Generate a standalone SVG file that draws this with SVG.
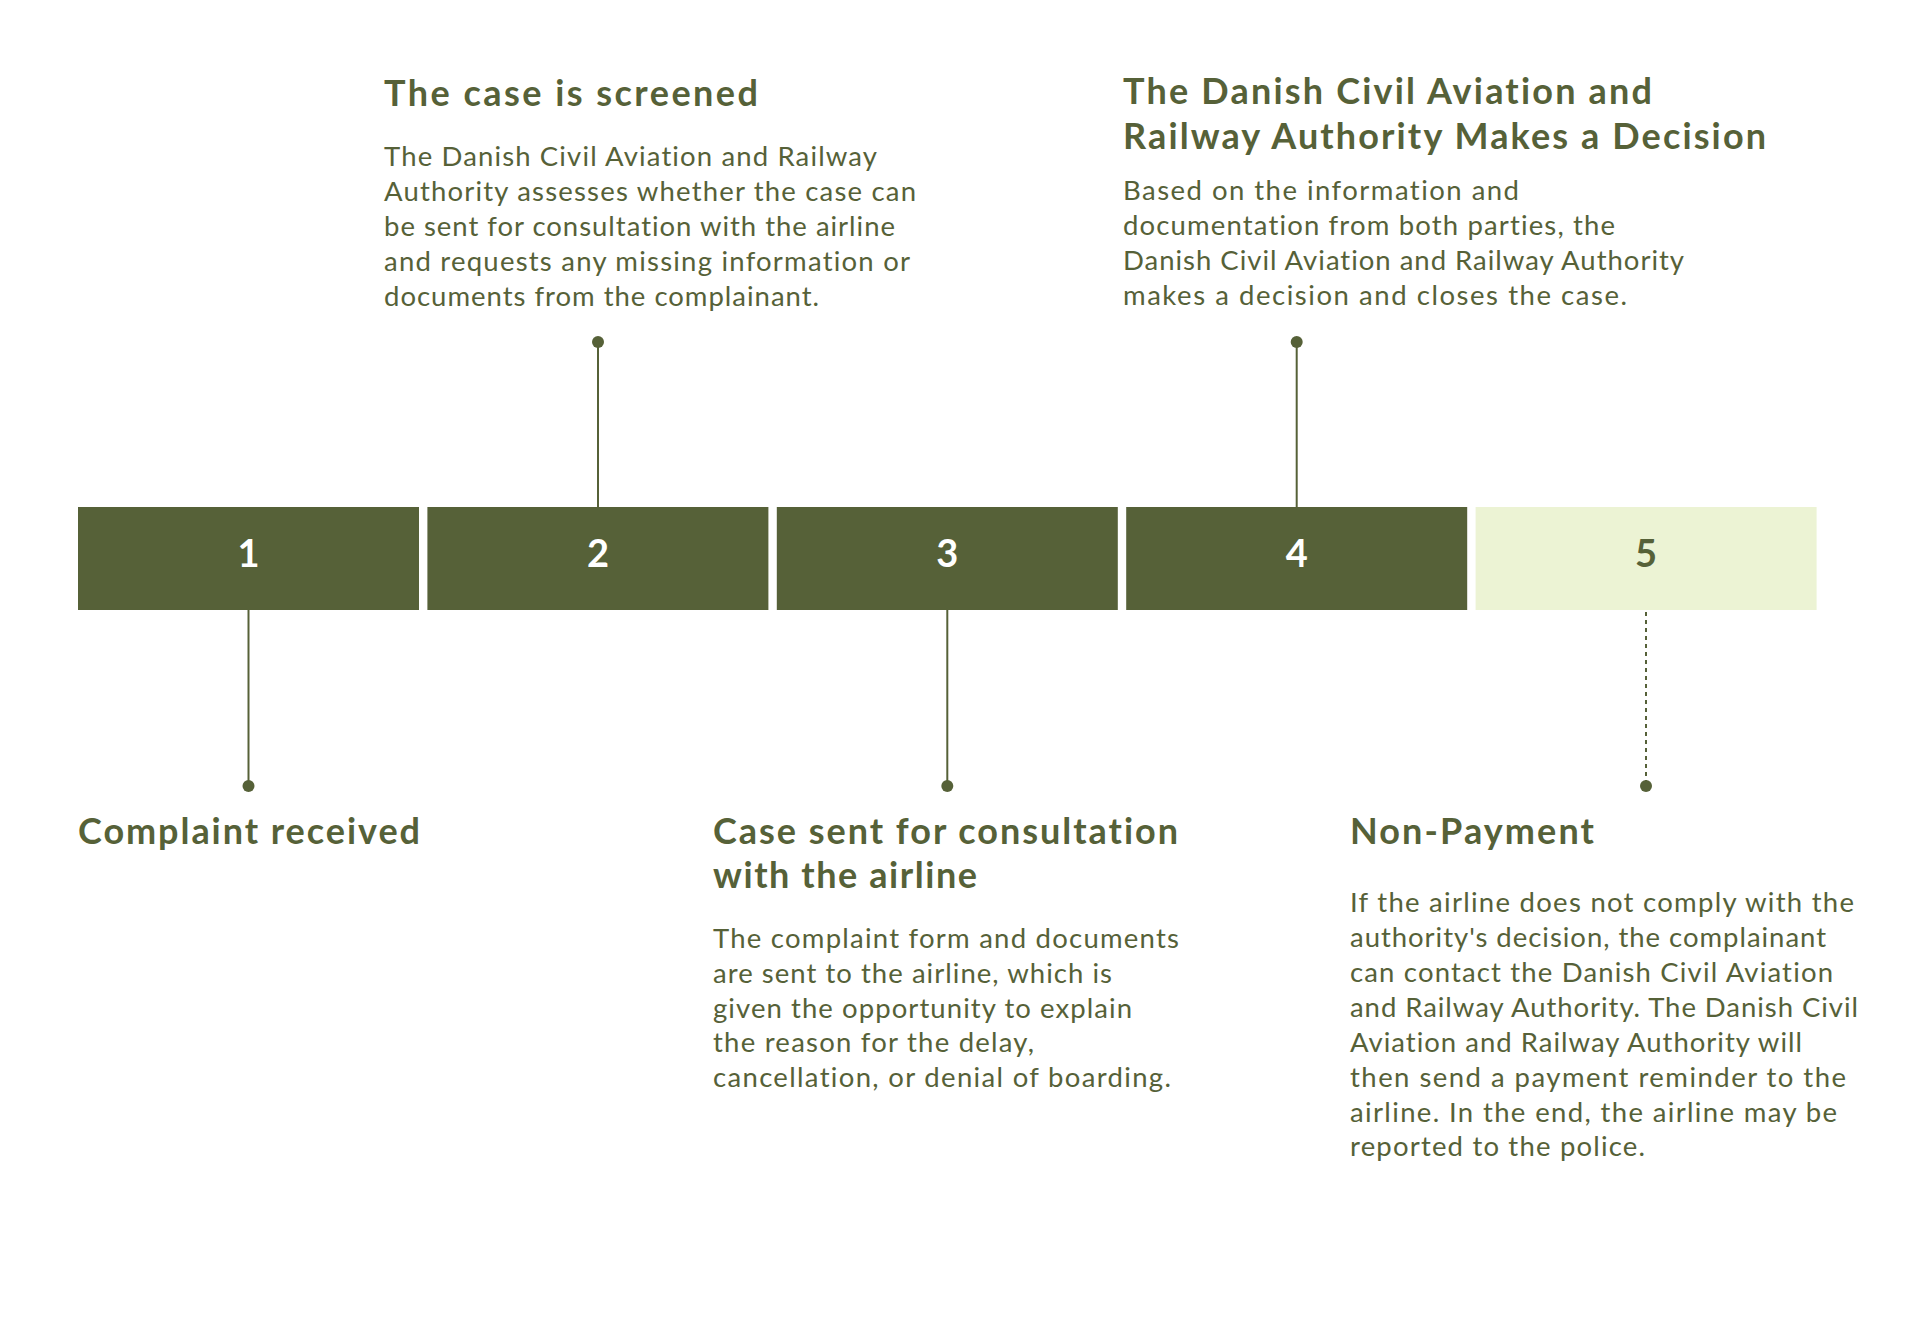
<svg xmlns="http://www.w3.org/2000/svg" width="1920" height="1343" viewBox="0 0 1920 1343">
<style>
text{font-variant-ligatures:none;font-feature-settings:"liga" 0,"dlig" 0}
.box{fill:#566138}
.box5{fill:#ECF3D4}
.num{font-family:Lato,"Open Sans",sans-serif;font-weight:700;font-size:38px;text-anchor:middle;fill:#ffffff}
.num5{fill:#566138}
.h{font-family:Lato,"Open Sans",sans-serif;font-weight:700;font-size:36px;fill:#566138}
.b{font-family:Lato,"Open Sans",sans-serif;font-weight:400;font-size:27.5px;fill:#566138}
.ln{stroke:#566138;stroke-width:2;fill:none}
.dash{stroke-dasharray:4 4}
.dot{fill:#566138}
</style>
<rect width="1920" height="1343" fill="#ffffff"/>
<g id="connectors">
<line class="ln" x1="248.5" y1="610" x2="248.5" y2="786"/>
<circle class="dot" cx="248.5" cy="786" r="6"/>
<line class="ln" x1="598" y1="342" x2="598" y2="507"/>
<circle class="dot" cx="598" cy="342" r="6"/>
<line class="ln" x1="947.3" y1="610" x2="947.3" y2="786"/>
<circle class="dot" cx="947.3" cy="786" r="6"/>
<line class="ln" x1="1296.7" y1="342" x2="1296.7" y2="507"/>
<circle class="dot" cx="1296.7" cy="342" r="6"/>
<line class="ln dash" x1="1646" y1="612" x2="1646" y2="786"/>
<circle class="dot" cx="1646" cy="786" r="6"/>
</g>
<g id="step1">
<rect class="box" x="78" y="507" width="341" height="103"/>
<text class="num" x="248.5" y="566.5">1</text>
<text class="h" x="78" y="844" textLength="342" lengthAdjust="spacing">Complaint received</text>
</g>
<g id="step2">
<rect class="box" x="427.4" y="507" width="341" height="103"/>
<text class="num" x="598" y="566.5">2</text>
<text class="h" x="384" y="106" textLength="374" lengthAdjust="spacing">The case is screened</text>
<text class="b" x="384" y="166" textLength="493" lengthAdjust="spacing">The Danish Civil Aviation and Railway</text>
<text class="b" x="384" y="201" textLength="532" lengthAdjust="spacing">Authority assesses whether the case can</text>
<text class="b" x="384" y="236" textLength="511" lengthAdjust="spacing">be sent for consultation with the airline</text>
<text class="b" x="384" y="271" textLength="526" lengthAdjust="spacing">and requests any missing information or</text>
<text class="b" x="384" y="306" textLength="435" lengthAdjust="spacing">documents from the complainant.</text>
</g>
<g id="step3">
<rect class="box" x="776.8" y="507" width="341" height="103"/>
<text class="num" x="947.3" y="566.5">3</text>
<text class="h" x="713" y="844" textLength="465" lengthAdjust="spacing">Case sent for consultation</text>
<text class="h" x="713" y="888" textLength="264" lengthAdjust="spacing">with the airline</text>
<text class="b" x="713" y="948" textLength="466" lengthAdjust="spacing">The complaint form and documents</text>
<text class="b" x="713" y="983" textLength="399" lengthAdjust="spacing">are sent to the airline, which is</text>
<text class="b" x="713" y="1018" textLength="419" lengthAdjust="spacing">given the opportunity to explain</text>
<text class="b" x="713" y="1052" textLength="321" lengthAdjust="spacing">the reason for the delay,</text>
<text class="b" x="713" y="1087" textLength="458" lengthAdjust="spacing">cancellation, or denial of boarding.</text>
</g>
<g id="step4">
<rect class="box" x="1126.2" y="507" width="341" height="103"/>
<text class="num" x="1296.7" y="566.5">4</text>
<text class="h" x="1123" y="104" textLength="529" lengthAdjust="spacing">The Danish Civil Aviation and</text>
<text class="h" x="1123" y="149" textLength="643" lengthAdjust="spacing">Railway Authority Makes a Decision</text>
<text class="b" x="1123" y="200" textLength="396" lengthAdjust="spacing">Based on the information and</text>
<text class="b" x="1123" y="235" textLength="492" lengthAdjust="spacing">documentation from both parties, the</text>
<text class="b" x="1123" y="270" textLength="561" lengthAdjust="spacing">Danish Civil Aviation and Railway Authority</text>
<text class="b" x="1123" y="305" textLength="504" lengthAdjust="spacing">makes a decision and closes the case.</text>
</g>
<g id="step5">
<rect class="box5" x="1475.6" y="507" width="341" height="103"/>
<text class="num num5" x="1646" y="566.5">5</text>
<text class="h" x="1350" y="844" textLength="244" lengthAdjust="spacing">Non-Payment</text>
<text class="b" x="1350" y="912" textLength="504" lengthAdjust="spacing">If the airline does not comply with the</text>
<text class="b" x="1350" y="947" textLength="476" lengthAdjust="spacing">authority's decision, the complainant</text>
<text class="b" x="1350" y="982" textLength="483" lengthAdjust="spacing">can contact the Danish Civil Aviation</text>
<text class="b" x="1350" y="1017" textLength="508" lengthAdjust="spacing">and Railway Authority. The Danish Civil</text>
<text class="b" x="1350" y="1052" textLength="452" lengthAdjust="spacing">Aviation and Railway Authority will</text>
<text class="b" x="1350" y="1087" textLength="496" lengthAdjust="spacing">then send a payment reminder to the</text>
<text class="b" x="1350" y="1122" textLength="487" lengthAdjust="spacing">airline. In the end, the airline may be</text>
<text class="b" x="1350" y="1156" textLength="295" lengthAdjust="spacing">reported to the police.</text>
</g>
</svg>
